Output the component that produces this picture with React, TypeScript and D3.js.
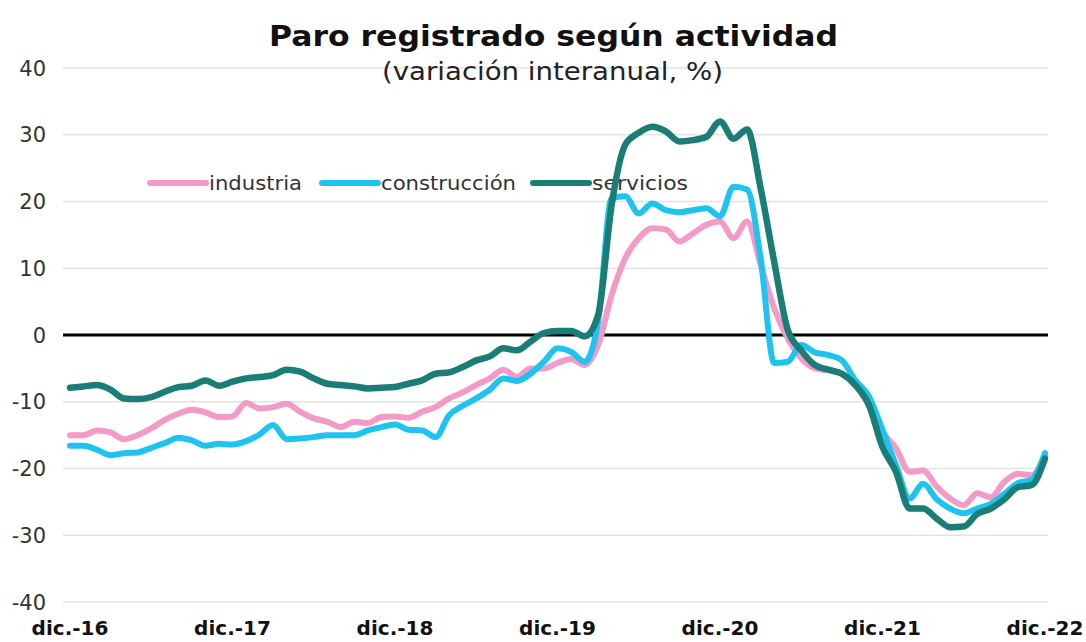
import { useEffect, useRef } from 'react';
import * as d3 from 'd3';

// monthly, dic.-16 .. dic.-22 (73 points)
const industria = [
  -15.0, -15.0, -14.3, -14.6, -15.6, -15.0, -14.0, -12.7, -11.8, -11.2, -11.6, -12.3,
  -12.2, -10.2, -11.0, -10.8, -10.3, -11.5, -12.5, -13.0, -13.8, -13.0, -13.2, -12.3,
  -12.2, -12.4, -11.5, -10.8, -9.5, -8.6, -7.5, -6.5, -5.2, -6.3, -5.0, -5.0,
  -4.2, -3.6, -4.5, -1.5, 6.0, 11.5, 14.5, 16.0, 15.8, 14.0, 15.2, 16.5,
  17.0, 14.5, 17.0, 10.5, 4.0, -0.5, -3.5, -5.0, -5.3, -5.8, -7.6, -10.5,
  -14.5, -17.0, -20.5, -20.3, -22.7, -24.5, -25.5, -23.7, -24.3, -22.0, -20.8, -21.0,
  -18.0,
];

const construccion = [
  -16.6, -16.6, -17.2, -18.0, -17.7, -17.6, -16.9, -16.2, -15.4, -15.8, -16.6, -16.3,
  -16.4, -15.9, -14.9, -13.5, -15.6, -15.5, -15.3, -15.0, -15.0, -15.0, -14.3, -13.8,
  -13.4, -14.2, -14.3, -15.3, -12.0, -10.6, -9.5, -8.2, -6.5, -6.9, -5.8, -4.0,
  -2.0, -2.5, -4.0, 2.0, 20.5, 20.8, 18.2, 19.7, 18.7, 18.4, 18.7, 19.0,
  17.8, 22.2, 21.8, 11.5, -4.2, -4.0, -1.5, -2.6, -3.0, -3.8, -6.8, -9.2,
  -14.2, -19.5, -24.5, -22.3, -24.6, -26.0, -26.7, -26.0, -25.3, -23.8, -22.2, -21.7,
  -17.7,
];

const servicios = [
  -7.9, -7.7, -7.5, -8.2, -9.5, -9.6, -9.3, -8.5, -7.8, -7.6, -6.8, -7.6,
  -7.0, -6.5, -6.3, -6.0, -5.2, -5.5, -6.5, -7.3, -7.5, -7.7, -8.0, -7.9,
  -7.8, -7.3, -6.8, -5.8, -5.6, -4.8, -3.8, -3.2, -2.0, -2.3, -1.0, 0.3,
  0.6, 0.6, -0.2, 3.0, 19.5, 28.5, 30.3, 31.2, 30.5, 29.0, 29.2, 29.7,
  32.0, 29.4, 30.8, 22.0, 11.0, 0.8, -2.3, -4.5, -5.2, -5.8, -7.5, -10.5,
  -16.8, -20.5, -26.0, -26.0, -27.5, -28.8, -28.7, -26.8, -26.0, -24.6, -22.8, -22.5,
  -18.5,
];

const xTickLabels = ['dic.-16', 'dic.-17', 'dic.-18', 'dic.-19', 'dic.-20', 'dic.-21', 'dic.-22'];
const yTicks = [40, 30, 20, 10, 0, -10, -20, -30, -40];

const seriesNames = ['industria', 'construcción', 'servicios'];
const seriesColors = ['#f39bc6', '#1fc3ef', '#1a7d76'];

const W = 1086;
const H = 642;
const FONT = '"DejaVu Sans", Verdana, sans-serif';

const App = () => {
  const ref = useRef<SVGSVGElement>(null);

  useEffect(() => {
    const svg = d3.select(ref.current);
    svg.selectAll('*').remove();

    const x = d3.scaleLinear().domain([0, 72]).range([70, 1045]);
    const y = d3.scaleLinear().domain([-40, 40]).range([602, 68]);

    svg.append('rect').attr('width', W).attr('height', H).attr('fill', 'white');

    // gridlines
    svg
      .append('g')
      .selectAll('line')
      .data(yTicks.filter((d) => d !== 0))
      .enter()
      .append('line')
      .attr('x1', 63)
      .attr('x2', 1048)
      .attr('y1', (d) => y(d))
      .attr('y2', (d) => y(d))
      .attr('stroke', '#e3e3e3')
      .attr('stroke-width', 1.5);

    // y labels
    svg
      .append('g')
      .selectAll('text')
      .data(yTicks)
      .enter()
      .append('text')
      .attr('x', 46)
      .attr('y', (d) => y(d))
      .attr('dy', '0.36em')
      .attr('text-anchor', 'end')
      .style('font-family', FONT)
      .style('font-size', '21px')
      .attr('fill', '#333')
      .text((d) => d);

    // x labels
    svg
      .append('g')
      .selectAll('text')
      .data(xTickLabels)
      .enter()
      .append('text')
      .attr('x', (d, i) => x(i * 12))
      .attr('y', 635)
      .attr('text-anchor', 'middle')
      .style('font-family', FONT)
      .style('font-size', '20px')
      .style('font-weight', 'bold')
      .attr('fill', '#111')
      .text((d) => d);

    // zero line
    svg
      .append('line')
      .attr('x1', 63)
      .attr('x2', 1048)
      .attr('y1', y(0))
      .attr('y2', y(0))
      .attr('stroke', 'black')
      .attr('stroke-width', 3);

    // title
    svg
      .append('text')
      .attr('x', 269)
      .attr('y', 46)
      .attr('textLength', 569)
      .attr('lengthAdjust', 'spacingAndGlyphs')
      .style('font-family', FONT)
      .style('font-size', '29px')
      .style('font-weight', 'bold')
      .attr('fill', '#111')
      .text('Paro registrado según actividad');

    svg
      .append('text')
      .attr('x', 382)
      .attr('y', 80)
      .attr('textLength', 341)
      .attr('lengthAdjust', 'spacingAndGlyphs')
      .style('font-family', FONT)
      .style('font-size', '25px')
      .attr('fill', '#222')
      .text('(variación interanual, %)');

    // legend
    const legendX = [150, 322, 533];
    const legendTextW = [93, 135, 96];
    const leg = svg.append('g');
    seriesNames.forEach((name, i) => {
      leg
        .append('line')
        .attr('x1', legendX[i])
        .attr('x2', legendX[i] + 56)
        .attr('y1', 183)
        .attr('y2', 183)
        .attr('stroke', seriesColors[i])
        .attr('stroke-width', 6)
        .attr('stroke-linecap', 'round');
      leg
        .append('text')
        .attr('x', legendX[i] + 59)
        .attr('y', 183)
        .attr('dy', '0.36em')
        .attr('textLength', legendTextW[i])
        .attr('lengthAdjust', 'spacingAndGlyphs')
        .style('font-family', FONT)
        .style('font-size', '20px')
        .attr('fill', '#333')
        .text(name);
    });

    // series
    const line = d3
      .line<number>()
      .x((d, i) => x(i))
      .y((d) => y(d))
      .curve(d3.curveMonotoneX);

    [industria, construccion, servicios].forEach((values, i) => {
      svg
        .append('path')
        .datum(values)
        .attr('d', line)
        .attr('fill', 'none')
        .attr('stroke', seriesColors[i])
        .attr('stroke-width', i === 2 ? 6.5 : 6)
        .attr('stroke-linejoin', 'round')
        .attr('stroke-linecap', 'round');
    });
  }, []);

  return (
    <svg
      ref={ref}
      width={W}
      height={H}
      style={{ position: 'absolute', left: 0, top: 0, display: 'block' }}
    />
  );
};

export default App;
